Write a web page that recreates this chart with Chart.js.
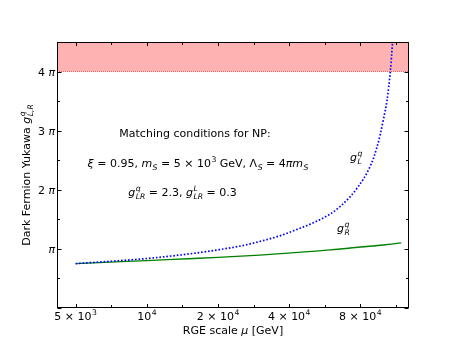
<!DOCTYPE html>
<html>
<head>
<meta charset="utf-8">
<script src="https://cdn.jsdelivr.net/npm/chart.js@4.4.0/dist/chart.umd.min.js"></script>
<style>
  html, body { margin: 0; padding: 0; background: #fff; }
  #wrap { width: 454px; height: 353px; }
</style>
</head>
<body>
<div id="wrap"><canvas id="chart" width="454" height="353"></canvas></div>
<script>
const PI = Math.PI;

// RGE scale mu [GeV] and the two Yukawa couplings
const muL = [5000, 7000, 10000, 15000, 20000, 25000, 31000, 37000, 43000, 50000, 60000, 66000, 72500, 78000, 82600, 87000, 91000, 94000, 97000, 100000, 103700, 107100, 109500, 110500];
const gL = [2.36, 2.48, 2.63, 2.87, 3.09, 3.30, 3.58, 3.86, 4.17, 4.50, 5.02, 5.42, 5.92, 6.42, 6.88, 7.40, 7.98, 8.55, 9.21, 10.0, 11.05, 12.6, 14.2, 15.0];

const muR = [5000, 7000, 10000, 15000, 20000, 30000, 45000, 60000, 80000, 100000, 119000];
const gR = [2.36, 2.44, 2.52, 2.62, 2.69, 2.81, 2.97, 3.09, 3.24, 3.35, 3.46];

// perturbativity bound
const gMax = 4 * PI;

// axis ranges and ticks
const muMin = 4170, muMax = 128400;
const muTicks = [5000, 7071, 10000, 14142, 20000, 28284, 40000, 56569, 80000, 113137];
const muLabels = [['5 × 10', '3'], null, ['10', '4'], null, ['2 × 10', '4'], null, ['4 × 10', '4'], null, ['8 × 10', '4'], null];
const gTicks = [0, 0.5, 1, 1.5, 2, 2.5, 3, 3.5, 4].map(k => k * PI);
const gLabels = ['', '', '', '', '2 ', '', '3 ', '', '4 '];

const FONT = '"DejaVu Sans"';
Chart.defaults.font.family = FONT;
Chart.defaults.font.size = 11;
Chart.defaults.color = '#000';

function fnt(size, it) {
  return (it ? 'italic ' : '') + size + 'px ' + FONT;
}

// draws a row of text pieces, with optional stacked super/subscripts
function drawMath(ctx, runs, x, y, align) {
  const big = 11, small = 7.7;
  let total = 0;
  const widths = runs.map(r => {
    ctx.font = fnt(big, r.it);
    let w = ctx.measureText(r.t).width;
    if (r.sup || r.sub) {
      ctx.font = fnt(small, !r.upsup);
      w += Math.max(r.sup ? ctx.measureText(r.sup).width : 0, r.sub ? ctx.measureText(r.sub).width : 0) + 0.5;
    }
    total += w;
    return w;
  });
  let cx = x;
  if (align === 'center') cx = x - total / 2;
  if (align === 'right') cx = x - total;
  ctx.textAlign = 'left';
  ctx.textBaseline = 'alphabetic';
  runs.forEach((r, i) => {
    ctx.font = fnt(big, r.it);
    ctx.fillText(r.t, cx, y);
    const w0 = ctx.measureText(r.t).width;
    ctx.font = fnt(small, !r.upsup);
    if (r.sup) ctx.fillText(r.sup, cx + w0 + 0.5, y - 5);
    if (r.sub) ctx.fillText(r.sub, cx + w0 + 0.5, y + 2.5);
    cx += widths[i];
  });
}

const framePlugin = {
  id: 'frame',
  afterDatasetsDraw(chart) {
    const ctx = chart.ctx;
    const a = chart.chartArea;
    const xs = chart.scales.x, ys = chart.scales.y;
    ctx.save();
    ctx.strokeStyle = '#000';
    ctx.lineWidth = 1;
    const l = Math.round(a.left) + 0.5, r = Math.round(a.right) - 0.5;
    const t = Math.round(a.top) + 0.5, b = Math.round(a.bottom) - 0.5;
    ctx.strokeRect(l, t, r - l, b - t);

    // inward ticks on all four sides
    ctx.beginPath();
    muTicks.forEach((v, i) => {
      const px = Math.round(xs.getPixelForValue(v)) + 0.5;
      const len = muLabels[i] ? 3.5 : 2.5;
      ctx.moveTo(px, b); ctx.lineTo(px, b - len);
      ctx.moveTo(px, t); ctx.lineTo(px, t + len);
    });
    gTicks.forEach((v, i) => {
      const py = Math.round(ys.getPixelForValue(v)) + 0.5;
      const len = i % 2 === 0 ? 4 : 2.5;
      ctx.moveTo(l, py); ctx.lineTo(l + len, py);
      ctx.moveTo(r, py); ctx.lineTo(r - len, py);
    });
    ctx.stroke();

    // tick labels
    ctx.fillStyle = '#000';
    muTicks.forEach((v, i) => {
      const lab = muLabels[i];
      if (!lab) return;
      drawMath(ctx, [{ t: lab[0], sup: lab[1], upsup: true }], xs.getPixelForValue(v), 320, 'center');
    });
    gTicks.forEach((v, i) => {
      if (i < 2 || i % 2 === 1) return;
      drawMath(ctx, [{ t: gLabels[i] }, { t: 'π', it: true }], 55, ys.getPixelForValue(v) + 4, 'right');
    });

    // annotations
    ctx.font = fnt(11, false);
    ctx.textAlign = 'center';
    ctx.fillText('Matching conditions for NP:', 195, 137);
    drawMath(ctx, [
      { t: 'ξ', it: true }, { t: ' = 0.95, ' },
      { t: 'm', it: true, sub: 'S' }, { t: ' = 5 × 10', sup: '3', upsup: true }, { t: ' GeV, ' },
      { t: 'Λ', sub: 'S' }, { t: ' = 4' }, { t: 'πm', it: true, sub: 'S' }
    ], 198, 167, 'center');
    drawMath(ctx, [
      { t: 'g', it: true, sup: 'q', sub: 'LR' }, { t: ' = 2.3, ' },
      { t: 'g', it: true, sup: 'L', sub: 'LR' }, { t: ' = 0.3' }
    ], 182.5, 196, 'center');
    drawMath(ctx, [{ t: 'g', it: true, sup: 'q', sub: 'L' }], 350, 161, 'left');
    drawMath(ctx, [{ t: 'g', it: true, sup: 'q', sub: 'R' }], 337, 232, 'left');

    // axis titles
    drawMath(ctx, [{ t: 'RGE scale ' }, { t: 'μ', it: true }, { t: ' [GeV]' }], (a.left + a.right) / 2, 334, 'center');
    ctx.save();
    ctx.translate(30, (a.top + a.bottom) / 2);
    ctx.rotate(-PI / 2);
    drawMath(ctx, [{ t: 'Dark Fermion Yukawa ' }, { t: 'g', it: true, sup: 'q', sub: 'L,R' }], 0, 0, 'center');
    ctx.restore();
    ctx.restore();
  }
};

new Chart(document.getElementById('chart'), {
  type: 'line',
  data: {
    datasets: [
      {
        data: muL.map((m, i) => ({ x: m, y: gL[i] })),
        borderColor: '#0000ff',
        borderWidth: 1.7,
        borderDash: [1.6, 1.9],
        pointRadius: 0,
        cubicInterpolationMode: 'monotone',
        fill: false,
        order: 1
      },
      {
        data: muR.map((m, i) => ({ x: m, y: gR[i] })),
        borderColor: '#008000',
        borderWidth: 1.4,
        pointRadius: 0,
        cubicInterpolationMode: 'monotone',
        fill: false,
        order: 2
      },
      {
        data: [{ x: muMin, y: gMax }, { x: muMax, y: gMax }],
        borderColor: '#ff5050',
        borderWidth: 1,
        borderDash: [1, 1],
        backgroundColor: 'rgba(255, 0, 0, 0.3)',
        pointRadius: 0,
        fill: 'end',
        order: 3
      }
    ]
  },
  options: {
    responsive: false,
    animation: false,
    layout: { padding: { top: 42, right: 45, left: 0, bottom: 0 } },
    plugins: { legend: { display: false }, tooltip: { enabled: false } },
    scales: {
      x: {
        type: 'logarithmic',
        min: muMin,
        max: muMax,
        afterBuildTicks: (scale) => { scale.ticks = muTicks.map(v => ({ value: v })); },
        afterFit: (scale) => { scale.height = 45; },
        grid: { display: false, drawTicks: false },
        border: { display: false },
        ticks: { display: false }
      },
      y: {
        type: 'linear',
        min: 0,
        max: 4.5 * PI,
        afterBuildTicks: (scale) => { scale.ticks = gTicks.map(v => ({ value: v })); },
        afterFit: (scale) => { scale.width = 57; },
        grid: { display: false, drawTicks: false },
        border: { display: false },
        ticks: { display: false }
      }
    }
  },
  plugins: [framePlugin]
});
</script>
</body>
</html>
